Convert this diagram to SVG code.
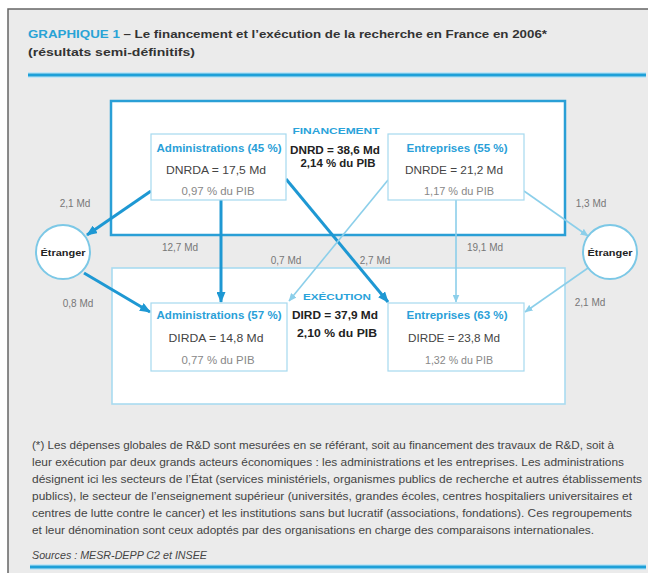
<svg xmlns="http://www.w3.org/2000/svg" width="648" height="573" viewBox="0 0 648 573">
<defs>
<style>
text{font-family:"Liberation Sans","DejaVu Sans",Arial,sans-serif}
.ttl{font-size:11.5px;font-weight:bold;fill:#333}
.hd{font-size:10px;font-weight:bold;fill:#2a9fd8;text-anchor:middle}
.val{font-size:11px;fill:#444;text-anchor:middle}
.pib{font-size:10px;fill:#888;text-anchor:middle}
.ctr{font-size:10px;font-weight:bold;fill:#222;text-anchor:middle}
.ctb{font-size:9.5px;font-weight:bold;fill:#2aa3da;text-anchor:middle}
.lbl{font-size:10px;fill:#777;text-anchor:middle}
.etr{font-size:9.5px;font-weight:bold;fill:#222;text-anchor:middle}
.fn{font-size:10px;fill:#444}
.ibox{fill:#fff;stroke:#a6d9ef;stroke-width:1.2}
.circ{fill:#fff;stroke:#7cc8e6;stroke-width:2}
.thick{stroke:#1e98d3;stroke-width:3;fill:none}
.thin{stroke:#8ccfea;stroke-width:1.6;fill:none}
</style>
<marker id="ah" markerUnits="userSpaceOnUse" markerWidth="11" markerHeight="9" refX="10" refY="4.5" orient="auto">
<path d="M0,0 L11,4.5 L0,9 z" fill="#1e98d3"/>
</marker>
<marker id="al" markerUnits="userSpaceOnUse" markerWidth="8" markerHeight="7" refX="7.5" refY="3.5" orient="auto">
<path d="M0,0 L8,3.5 L0,7 z" fill="#8ccfea"/>
</marker>
</defs>
<rect x="0" y="0" width="648" height="573" fill="#fff"/>
<rect x="8" y="9" width="660" height="580" fill="#ebebeb" stroke="#666" stroke-width="1.5"/>

<g id="title">
<text class="ttl" x="28" y="38" textLength="519" lengthAdjust="spacingAndGlyphs"><tspan fill="#29a3d6">GRAPHIQUE 1</tspan> – Le financement et l’exécution de la recherche en France en 2006*</text>
<text class="ttl" x="28" y="56" textLength="167" lengthAdjust="spacingAndGlyphs">(résultats semi-définitifs)</text>
<line x1="28" y1="75" x2="646" y2="75" stroke="#c4e6f5" stroke-width="6"/>
<line x1="28" y1="75" x2="646" y2="75" stroke="#1ea0d8" stroke-width="3"/>
</g>

<g id="financement">
<rect x="111" y="101" width="454" height="134" fill="#fff" stroke="#2a9fd6" stroke-width="2.5"/>
<text class="ctb" x="336" y="134" textLength="87" lengthAdjust="spacingAndGlyphs">FINANCEMENT</text>
<text class="ctr" x="335" y="153.5" textLength="90" lengthAdjust="spacingAndGlyphs">DNRD = 38,6 Md</text>
<text class="ctr" x="338" y="167" textLength="75" lengthAdjust="spacingAndGlyphs">2,14 % du PIB</text>
</g>

<g id="execution">
<rect x="112" y="268" width="453" height="136" fill="#fff" stroke="#a9dbf0" stroke-width="1.6"/>
<text class="ctb" x="337" y="299.5" textLength="68" lengthAdjust="spacingAndGlyphs">EXÉCUTION</text>
<text class="ctr" x="335" y="318.5" textLength="86" lengthAdjust="spacingAndGlyphs">DIRD = 37,9 Md</text>
<text class="ctr" x="337" y="336.5" textLength="80" lengthAdjust="spacingAndGlyphs">2,10 % du PIB</text>
</g>

<g id="connectors">
<line class="thick" x1="151" y1="191" x2="87" y2="235" marker-end="url(#ah)"/>
<line class="thick" x1="84" y1="273" x2="150" y2="312" marker-end="url(#ah)"/>
<line class="thick" x1="221" y1="200" x2="221" y2="302" marker-end="url(#ah)"/>
<line class="thick" x1="286" y1="179" x2="388" y2="302" marker-end="url(#ah)"/>
<line class="thin" x1="388" y1="180" x2="289" y2="301" marker-end="url(#al)"/>
<line class="thin" x1="456" y1="200" x2="456" y2="302" marker-end="url(#al)"/>
<line class="thin" x1="524" y1="191" x2="588" y2="236" marker-end="url(#al)"/>
<line class="thin" x1="588" y1="268" x2="525" y2="312" marker-end="url(#al)"/>
<text class="lbl" x="75" y="206.5">2,1 Md</text>
<text class="lbl" x="78" y="306.5">0,8 Md</text>
<text class="lbl" x="180" y="250.5">12,7 Md</text>
<text class="lbl" x="286" y="264">0,7 Md</text>
<text class="lbl" x="375" y="264">2,7 Md</text>
<text class="lbl" x="485" y="250.5">19,1 Md</text>
<text class="lbl" x="591" y="206.5">1,3 Md</text>
<text class="lbl" x="590" y="305.5">2,1 Md</text>
</g>

<g id="admin-fin">
<rect class="ibox" x="151" y="134" width="135" height="66"/>
<text class="hd" x="219" y="151.5" textLength="125" lengthAdjust="spacingAndGlyphs">Administrations (45 %)</text>
<text class="val" x="216" y="174" textLength="100" lengthAdjust="spacingAndGlyphs">DNRDA = 17,5 Md</text>
<text class="pib" x="218" y="195" textLength="73" lengthAdjust="spacingAndGlyphs">0,97 % du PIB</text>
</g>

<g id="entr-fin">
<rect class="ibox" x="388" y="134" width="136" height="66"/>
<text class="hd" x="457" y="151.5" textLength="101" lengthAdjust="spacingAndGlyphs">Entreprises (55 %)</text>
<text class="val" x="454" y="174" textLength="98" lengthAdjust="spacingAndGlyphs">DNRDE = 21,2 Md</text>
<text class="pib" x="459" y="195" textLength="70" lengthAdjust="spacingAndGlyphs">1,17 % du PIB</text>
</g>

<g id="admin-exe">
<rect class="ibox" x="151" y="303" width="136" height="68"/>
<text class="hd" x="219" y="318.5" textLength="125" lengthAdjust="spacingAndGlyphs">Administrations (57 %)</text>
<text class="val" x="216" y="342" textLength="95" lengthAdjust="spacingAndGlyphs">DIRDA = 14,8 Md</text>
<text class="pib" x="218" y="363.5" textLength="73" lengthAdjust="spacingAndGlyphs">0,77 % du PIB</text>
</g>

<g id="entr-exe">
<rect class="ibox" x="388" y="303" width="136" height="68"/>
<text class="hd" x="457" y="318.5" textLength="101" lengthAdjust="spacingAndGlyphs">Entreprises (63 %)</text>
<text class="val" x="454" y="342" textLength="92" lengthAdjust="spacingAndGlyphs">DIRDE = 23,8 Md</text>
<text class="pib" x="459" y="363.5" textLength="68" lengthAdjust="spacingAndGlyphs">1,32 % du PIB</text>
</g>

<g id="etranger-left">
<circle class="circ" cx="63" cy="252" r="27"/>
<text class="etr" x="63" y="255.5" textLength="45" lengthAdjust="spacingAndGlyphs">Étranger</text>
</g>

<g id="etranger-right">
<circle class="circ" cx="610" cy="252" r="27"/>
<text class="etr" x="610" y="255.5" textLength="45" lengthAdjust="spacingAndGlyphs">Étranger</text>
</g>

<g id="footnote">
<text class="fn" x="32" y="449" textLength="582" lengthAdjust="spacingAndGlyphs">(*) Les dépenses globales de R&amp;D sont mesurées en se référant, soit au financement des travaux de R&amp;D, soit à</text>
<text class="fn" x="32" y="466" textLength="592" lengthAdjust="spacingAndGlyphs">leur exécution par deux grands acteurs économiques : les administrations et les entreprises. Les administrations</text>
<text class="fn" x="32" y="483" textLength="610" lengthAdjust="spacingAndGlyphs">désignent ici les secteurs de l’État (services ministériels, organismes publics de recherche et autres établissements</text>
<text class="fn" x="32" y="500" textLength="600" lengthAdjust="spacingAndGlyphs">publics), le secteur de l’enseignement supérieur (universités, grandes écoles, centres hospitaliers universitaires et</text>
<text class="fn" x="32" y="517" textLength="600" lengthAdjust="spacingAndGlyphs">centres de lutte contre le cancer) et les institutions sans but lucratif (associations, fondations). Ces regroupements</text>
<text class="fn" x="32" y="534" textLength="562" lengthAdjust="spacingAndGlyphs">et leur dénomination sont ceux adoptés par des organisations en charge des comparaisons internationales.</text>
<text class="fn" x="32" y="559" font-style="italic" textLength="175" lengthAdjust="spacingAndGlyphs">Sources : MESR-DEPP C2 et INSEE</text>
<line x1="30" y1="567" x2="646" y2="567" stroke="#c4e6f5" stroke-width="6"/>
<line x1="30" y1="567" x2="646" y2="567" stroke="#1ea0d8" stroke-width="3"/>
</g>
</svg>
